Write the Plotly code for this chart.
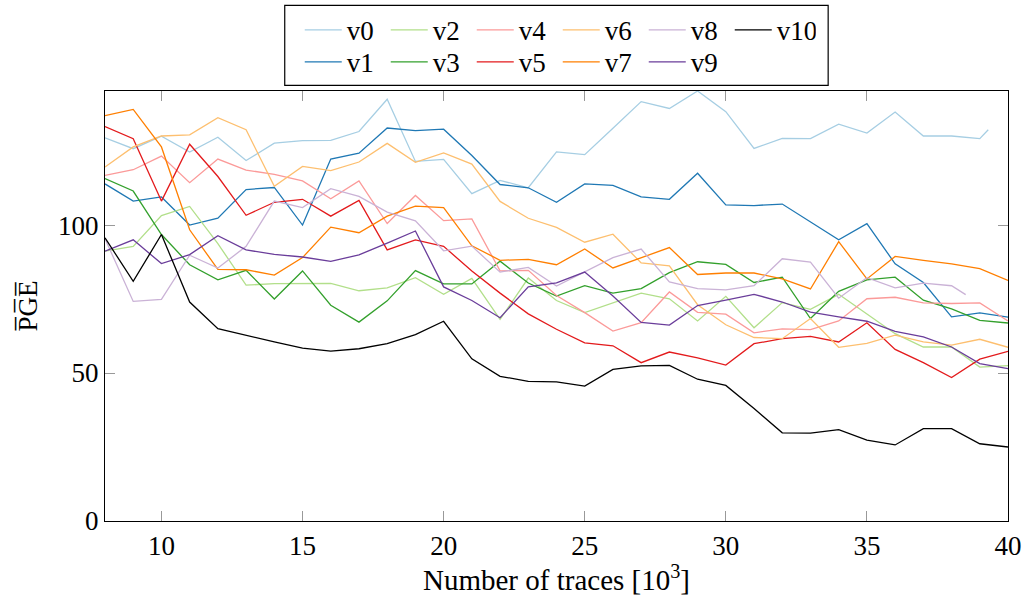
import plotly.graph_objects as go

x_full = list(range(8, 41))
x_v0 = list(range(8, 40)) + [39.3]
x_v8 = list(range(8, 39)) + [38.5]

v0 = [129.5, 125.8, 130.0, 124.7, 129.7, 121.8, 127.7, 128.5, 128.6, 131.6, 142.5, 121.5, 122.2, 110.6,
      115.1, 112.6, 124.7, 123.8, 132.7, 141.7, 139.4, 145.3, 138.3, 125.9, 129.3, 129.2, 134.1, 131.1,
      138.2, 130.1, 130.1, 129.2, 132.2]
v1 = [113.9, 108.1, 109.5, 100.0, 102.3, 112.0, 112.7, 100.0, 122.3, 124.3, 132.8, 131.9, 132.4, 123.5,
      113.7, 112.6, 107.7, 113.9, 113.4, 109.5, 108.7, 117.5, 106.8, 106.6, 107.1, 101.0, 95.0, 100.5,
      86.9, 80.6, 69.0, 70.3, 68.9]
v2 = [91.2, 92.8, 103.2, 106.3, 93.7, 79.7, 80.2, 80.3, 80.3, 77.8, 78.8, 82.2, 76.6, 82.0, 68.1, 82.1,
      74.5, 70.4, 73.8, 77.0, 75.1, 67.6, 75.9, 65.3, 73.8, 71.5, 76.6, 69.9, 63.3, 58.8, 58.8, 52.0, 52.5]
v3 = [115.7, 111.5, 96.8, 86.6, 81.5, 84.7, 75.0, 84.5, 72.9, 67.2, 74.4, 84.6, 80.1, 80.1, 87.8, 80.4,
      76.0, 79.5, 77.0, 78.5, 83.9, 87.6, 86.7, 80.6, 82.4, 68.4, 77.6, 81.5, 82.4, 74.6, 71.7, 67.8, 66.9]
v4 = [116.8, 118.7, 123.3, 114.3, 122.3, 118.6, 117.1, 114.9, 108.9, 114.9, 100.5, 110.0, 101.5, 102.1,
      84.5, 84.7, 76.2, 70.4, 64.2, 67.0, 77.4, 70.5, 69.9, 63.6, 64.9, 64.7, 67.6, 75.1, 75.6, 73.7,
      73.5, 73.7, 67.6]
v5 = [133.3, 129.2, 108.1, 127.3, 116.4, 103.3, 107.7, 108.7, 103.0, 108.3, 91.6, 95.0, 92.8, 84.5, 77.0,
      70.0, 64.8, 60.2, 59.2, 53.5, 57.1, 55.1, 52.7, 59.9, 61.6, 62.4, 60.5, 67.0, 58.0, 53.5, 48.5,
      54.7, 57.3]
v6 = [119.6, 126.4, 130.1, 130.5, 136.3, 132.2, 113.1, 119.8, 118.4, 121.3, 127.6, 121.2, 124.4, 120.6,
      108.0, 102.3, 99.2, 94.2, 96.9, 87.2, 86.2, 73.1, 66.3, 62.0, 61.6, 68.4, 58.7, 60.0, 62.8, 60.5,
      59.4, 61.4, 58.7]
v7 = [137.0, 139.1, 126.4, 98.4, 85.0, 84.9, 83.1, 89.0, 99.3, 97.4, 103.0, 106.4, 105.9, 93.0, 88.1,
      88.4, 86.6, 91.9, 85.5, 89.0, 92.4, 83.3, 83.8, 83.8, 81.8, 78.4, 94.4, 81.8, 89.4, 88.1, 86.9,
      85.3, 81.3]
v8 = [95.4, 74.2, 74.9, 89.8, 85.5, 92.8, 108.1, 105.9, 112.3, 109.7, 104.4, 101.4, 91.3, 92.9, 84.1,
      85.7, 79.4, 84.1, 89.0, 91.9, 80.8, 78.5, 78.1, 79.5, 88.6, 87.5, 75.3, 82.2, 78.8, 80.4, 79.5, 76.5]
v9 = [91.2, 95.0, 87.0, 90.0, 96.4, 91.6, 90.1, 89.2, 87.7, 89.9, 93.9, 98.0, 79.1, 74.5, 68.7, 79.1,
      80.5, 84.1, 76.0, 67.1, 66.2, 72.8, 74.6, 76.6, 74.0, 70.6, 69.0, 67.5, 64.1, 62.2, 58.8, 53.2, 51.5]
v10 = [95.7, 81.0, 96.8, 74.0, 65.0, 62.7, 60.5, 58.4, 57.4, 58.2, 59.9, 63.0, 67.5, 54.8, 48.9, 47.2,
       47.0, 45.6, 51.2, 52.4, 52.6, 47.9, 45.8, 38.0, 29.8, 29.7, 30.9, 27.3, 25.7, 31.2, 31.2, 26.1, 25.0]

names = ["v0", "v1", "v2", "v3", "v4", "v5", "v6", "v7", "v8", "v9", "v10"]
series = [v0, v1, v2, v3, v4, v5, v6, v7, v8, v9, v10]
xs = [x_v0, x_full, x_full, x_full, x_full, x_full, x_full, x_full, x_v8, x_full, x_full]
colors = ["#a6cee3", "#1f78b4", "#b2df8a", "#33a02c", "#fb9a99", "#e31a1c",
          "#fdbf6f", "#ff7f00", "#cab2d6", "#6a3d9a", "#000000"]

x_ticks = [10, 15, 20, 25, 30, 35, 40]
y_ticks = [0, 50, 100]

FONT = "Liberation Serif"
FS = 27

fig = go.Figure()
for i, (n, xv, yv, c) in enumerate(zip(names, xs, series, colors)):
    fig.add_trace(go.Scatter(
        x=xv, y=yv, mode="lines", name=n,
        line=dict(color=c, width=1.3),
        legend="legend" if i % 2 == 0 else "legend2",
    ))

legend_common = dict(
    orientation="h", xanchor="left", yanchor="middle",
    font=dict(family=FONT, size=FS, color="black"),
    bgcolor="rgba(0,0,0,0)", borderwidth=0,
    itemwidth=37, entrywidth=34, entrywidthmode="pixels", itemclick=False,
    tracegroupgap=0,
)

fig.update_layout(
    width=1035, height=596,
    margin=dict(l=105, r=27, t=91, b=75, autoexpand=False),
    paper_bgcolor="white", plot_bgcolor="white",
    font=dict(family=FONT, size=FS, color="black"),
    showlegend=True,
    legend=dict(x=(300 - 105.4) / 902.3, y=(520.7 - 30) / 430, **legend_common),
    legend2=dict(x=(300 - 105.4) / 902.3, y=(520.7 - 62) / 430, **legend_common),
    xaxis=dict(
        range=[8, 40], tickmode="array", tickvals=x_ticks,
        ticks="inside", ticklen=10, tickcolor="#999999", tickwidth=1.2,
        showline=True, linecolor="black", linewidth=1.3, mirror="ticks",
        showgrid=False, zeroline=False, automargin=False,
        title=dict(text="Number of traces [10<sup>3</sup>]", standoff=10,
                   font=dict(family=FONT, size=29)),
        tickfont=dict(family=FONT, size=FS),
    ),
    yaxis=dict(
        range=[0, 145.3], tickmode="array", tickvals=y_ticks,
        ticks="inside", ticklen=10, tickcolor="#999999", tickwidth=1.2,
        showline=True, linecolor="black", linewidth=1.3, mirror="ticks",
        showgrid=False, zeroline=False, automargin=False,
        tickfont=dict(family=FONT, size=FS),
    ),
    shapes=[dict(type="rect", xref="paper", yref="paper",
                 x0=(285 - 105.4) / 902.3, x1=(828 - 105.4) / 902.3,
                 y0=(520.7 - 85) / 430, y1=(520.7 - 5) / 430,
                 line=dict(color="black", width=1.2), fillcolor="rgba(0,0,0,0)")],
    annotations=[dict(text="P\u0305G\u0305E\u0305", xref="paper", yref="paper",
                      x=(28 - 105.4) / 902.3, y=0.5, textangle=-90, showarrow=False,
                      font=dict(family=FONT, size=FS), xanchor="center", yanchor="middle")],
)

fig.write_html("out.html", config={"displayModeBar": False},
               post_script="document.body.style.margin='0';document.body.style.overflow='hidden';")
